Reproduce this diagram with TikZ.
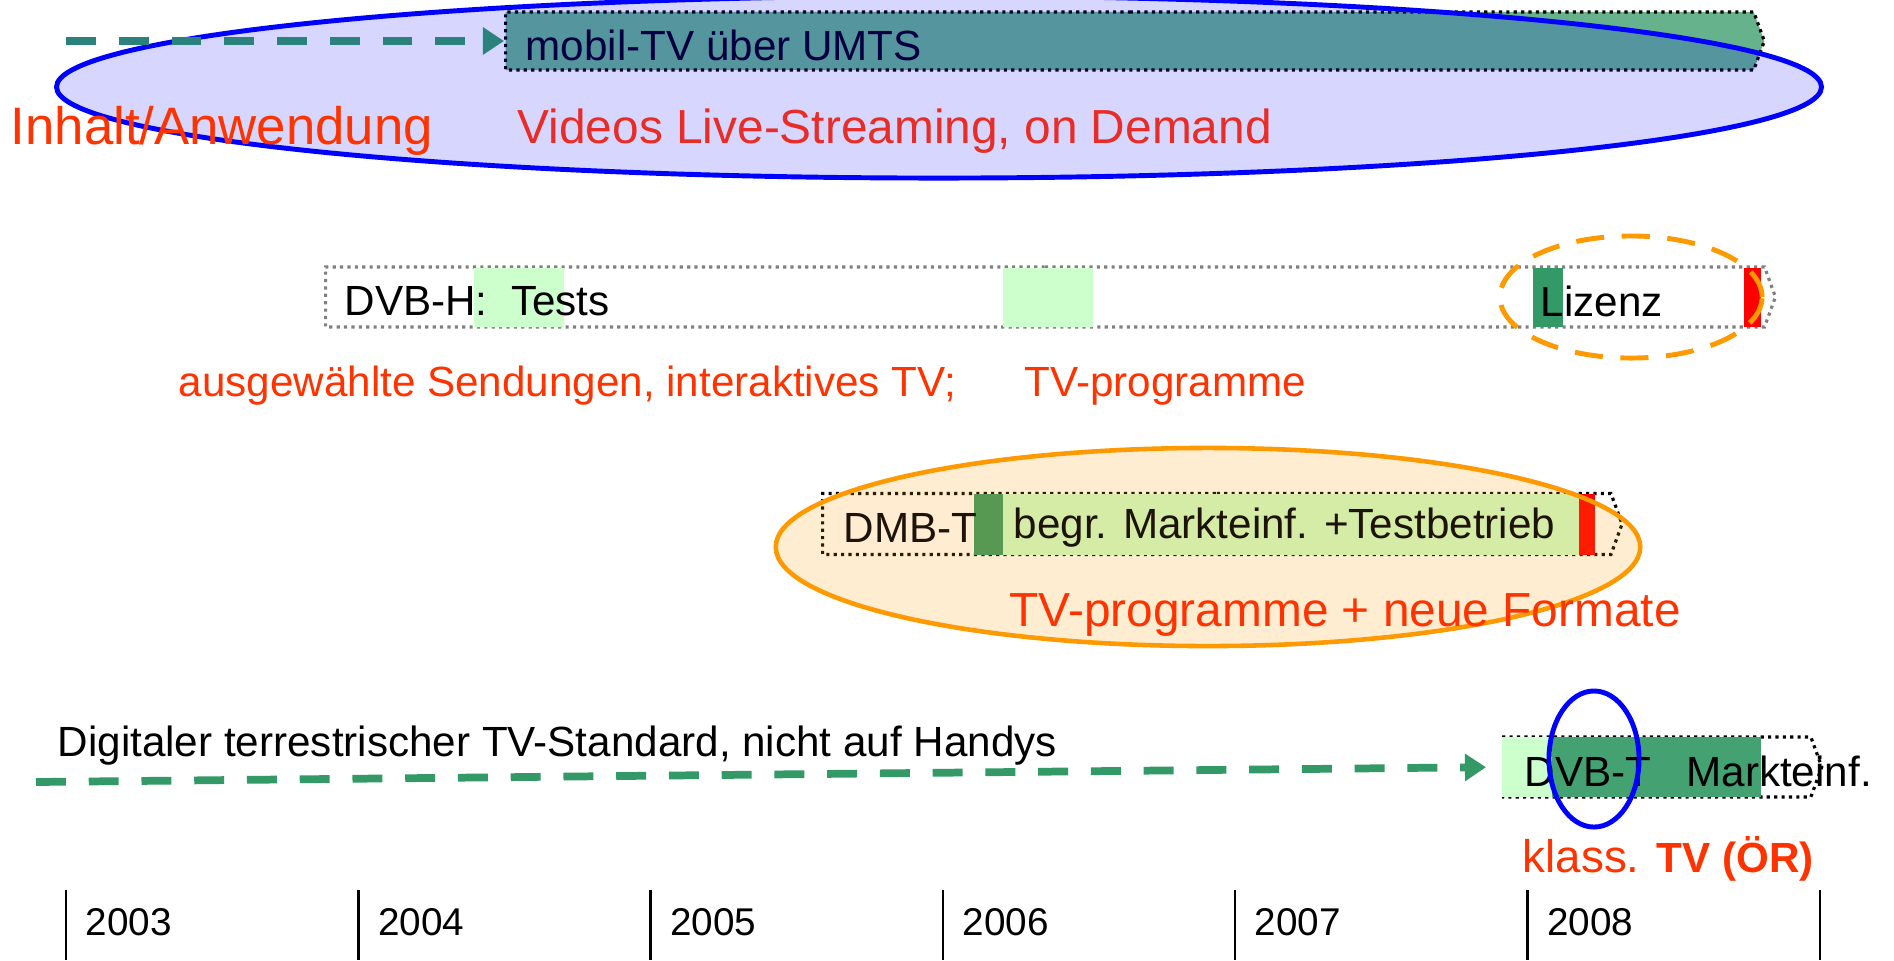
\documentclass[tikz,border=0pt]{standalone}
\usepackage{fontspec}
\setmainfont{Liberation Sans}
\usepackage{xcolor}
\usepackage{tikz}
\usetikzlibrary{arrows.meta}
\usetikzlibrary{shapes.geometric}
\usetikzlibrary{shapes.symbols}
\usetikzlibrary{positioning}

\definecolor{bargreen}{RGB}{51,153,102}
\definecolor{palegreen}{RGB}{204,255,204}
\definecolor{hotred}{RGB}{255,51,0}
\definecolor{vidred}{RGB}{232,45,40}
\definecolor{ringorange}{RGB}{255,153,0}
\definecolor{ringblue}{RGB}{0,0,255}

\tikzset{
  bar/.style={signal, signal to=east, signal pointer angle=140, anchor=west, inner sep=0pt,
    minimum height=6mm, fill=white, draw=black, line width=0.9pt, dash pattern=on 0.9pt off 1.2pt},
  lbl/.style={anchor=west, inner sep=0pt, yshift=-0.4mm, font=\fontsize{12}{14}\selectfont},
  big/.style={anchor=west, inner sep=0pt, yshift=-0.4mm, font=\fontsize{13.6}{16}\selectfont},
  year/.style={anchor=west, inner sep=0pt, font=\fontsize{11}{13}\selectfont},
  ring/.style={ellipse, inner sep=0pt, line width=1.4pt},
  flow/.style={draw=bargreen, line width=2.2pt, dash pattern=on 8.5pt off 6.5pt,
    -{Triangle[length=6pt,width=7.5pt]}},
}

\begin{document}
\begin{tikzpicture}[x=0.01cm, y=-0.01cm]
    \useasboundingbox (0,0) rectangle (1894,960);

    \node[bar, fill=bargreen!75, minimum width=125.8mm, minimum height=5.8mm] (umts) at (504,41) {};
    \node[bar, draw=gray, minimum width=144.9mm] (dvbh) at (324,297) {};
    \node[bar, minimum width=79.9mm, minimum height=6.1mm] (dmbt) at (821,524) {};
    \node[bar, minimum width=31.8mm] (dvbt) at (1502,767) {};

    \fill[palegreen] (474,268) rectangle (564,327) (1003,268) rectangle (1093,327);
    \fill[bargreen] (1533,268) rectangle (1563,327);
    \fill[red] (1744,268) rectangle (1761,327);
    \fill[bargreen] (974,494) rectangle (1003,555);
    \fill[palegreen] (1003,494) rectangle (1579,555);
    \fill[red] (1579,494) rectangle (1595,555);
    \fill[palegreen] (1502,737) rectangle (1552,797);
    \fill[bargreen!92] (1552,737) rectangle (1761,797);

    \node[ring, draw=ringblue, fill=ringblue, fill opacity=0.16, minimum width=176.4mm, minimum height=18.2mm] (umtsring) at (939,87) {};
    \node[ring, draw=ringorange, fill=ringorange, fill opacity=0.18, line width=1.3pt, minimum width=86.4mm, minimum height=19.8mm] (dmbtring) at (1208,547) {};

    \node[lbl, text=black!75!blue] (umtstext) at (525,41) {mobil-TV über UMTS};
    \node[big, text=hotred, font=\fontsize{15}{18}\selectfont] (inhalt) at (10,127) {Inhalt/Anwendung};
    \node[big, text=vidred] (videos) at (517,127) {Videos Live-Streaming, on Demand};
    \node[lbl] (dvbhtext) at (344,297) {DVB-H:\ \ Tests};
    \node[lbl] (lizenz) at (1540,297) {Lizenz};
    \node[lbl, text=hotred] (sendungen) at (178,382) {ausgewählte Sendungen, interaktives TV;};
    \node[lbl, text=hotred] (tvprog) at (1024,382) {TV-programme};
    \node[lbl, text=black!85!brown] (dmbttext) at (843,524) {DMB-T};
    \node[lbl, text=black!85!brown] (begr) at (1013,524) {begr. Markteinf. +Testbetrieb};
    \node[big, text=hotred] (formate) at (1009,611) {TV-programme + neue Formate};
    \node[lbl] (digital) at (57,742) {Digitaler terrestrischer TV-Standard, nicht auf Handys};
    \node[lbl] (dvbttext) at (1524,767) {DVB-T\ \ \ Markteinf.};
    \node[big, text=hotred, font=\fontsize{13}{15}\selectfont] (klass) at (1522,855) {klass. {\fontsize{12}{14}\selectfont\bfseries TV (ÖR)}};

    \node[ring, draw=ringorange, dash pattern=on 8pt off 5pt, minimum width=26.2mm, minimum height=12.2mm] (lizenzring) at (1631,297) {};
    \node[ring, draw=ringblue, minimum width=9mm, minimum height=13.6mm] (dvbtring) at (1594,759) {};

    \coordinate (ustart) at (66,41);
    \coordinate (tstart) at (36,782);
    \draw[flow, draw=bargreen!85!blue] (ustart) -- (umts.west);
    \draw[flow, shorten >=1.6mm] (tstart) -- (dvbt.west);

    \foreach \yr [count=\i from 0] in {2003,2004,2005,2006,2007,2008} {
        \draw[line width=0.7pt] (66+292.3*\i,890) -- ++(0,70);
        \node[year] (y\yr) at (85+292.3*\i,922) {\yr};
    }
    \draw[line width=0.7pt] (1820,890) -- ++(0,70);
\end{tikzpicture}
\end{document}
